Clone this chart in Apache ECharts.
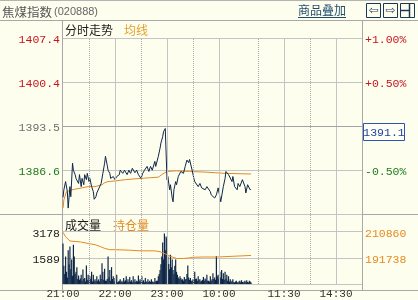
<!DOCTYPE html>
<html><head><meta charset="utf-8">
<script src="https://cdn.jsdelivr.net/npm/echarts@6/dist/echarts.min.js"></script>
<style>html,body{margin:0;padding:0;background:#FEFEEF;}#c{width:418px;height:300px;}</style>
</head><body><div id="c"></div>
<script>
// ---------- data ----------
const titleName = '焦煤指数';
const titleCode = '(020888)';
const prevClose = 1393.5;
const lastPriceLabel = '1391.1';
const sessionMinutes = 345;               // 21:00-23:00, 9:00-10:15, 10:30-11:30, 13:30-15:00
const priceTickLabels = ['', '1386.6', '1393.5', '1400.4', '1407.4'];   // -1%..+1%
const pctTickLabels   = ['', '-0.50%', '', '+0.50%', '+1.00%'];
const volTickLabels   = ['', '1589', '3178'];
const oiTickLabels    = ['', '191738', '210860'];
const timeTickMinutes = [0, 60, 120, 180, 255, 315];
const timeTickLabels  = ['21:00', '22:00', '23:00', '10:00', '11:30', '14:30'];
const solidGridMinutes  = [60, 120, 180, 255, 315];
const dottedGridMinutes = [30, 90, 150, 225, 285];

const priceMinutes = [0,1,3,5,6,8,9,11,12,14,15,18,19,21,22,24,25,27,28,30,31,33,35,36,38,39,41,44,46,48,49,51,52,54,55,57,58,60,62,65,66,69,71,74,76,78,80,83,85,87,90,92,94,97,99,101,103,106,107,109,110,112,113,115,116,118,119,120,121,123,124,126,127,128,130,131,133,134,136,139,141,143,145,146,148,149,151,152,154,156,158,160,162,164,166,168,170,171,173,175,177,179,181,182,184,185,187,188,190,191,193,195,196,198,199,201,202,204,207,208,210,211,213,214,216,217];
const priceValues = [1382.2,1383.4,1384.7,1383.1,1380.5,1383.9,1382.3,1387.6,1386.5,1385.8,1385.2,1384.4,1385.8,1383.9,1385.2,1384.2,1385.8,1385.0,1386.0,1384.7,1385.2,1383.9,1383.1,1381.9,1382.3,1382.9,1383.1,1384.4,1386.0,1387.6,1388.7,1387.3,1386.5,1386.0,1385.2,1385.0,1385.5,1385.0,1385.5,1385.8,1386.5,1386.0,1386.5,1385.8,1386.5,1386.0,1386.8,1386.1,1386.5,1385.8,1385.2,1386.0,1386.5,1387.1,1386.3,1387.1,1386.5,1387.9,1387.1,1387.3,1388.7,1390.0,1390.8,1391.8,1392.6,1393.1,1393.3,1385.0,1385.5,1383.4,1384.2,1382.1,1381.5,1383.4,1384.7,1384.2,1385.5,1385.8,1386.3,1386.0,1387.1,1388.1,1387.7,1388.2,1387.9,1386.5,1385.2,1384.7,1385.0,1383.9,1384.4,1383.7,1383.9,1383.4,1383.9,1383.7,1383.1,1382.6,1382.3,1382.1,1382.6,1383.7,1382.3,1381.5,1381.8,1383.9,1385.2,1386.3,1386.5,1385.8,1386.0,1384.7,1385.5,1383.9,1384.2,1383.4,1384.4,1383.9,1385.0,1385.2,1383.9,1382.9,1384.2,1383.9,1383.4,1383.5];

const avgMinutes = [0,1,4,8,14,22,29,37,45,48,52,60,72,89,100,110,114,120,131,146,164,187,217];
const avgValues  = [1380.5,1381.8,1383.1,1383.3,1383.5,1383.7,1383.9,1383.9,1384.2,1384.5,1384.7,1384.8,1385.0,1385.2,1385.3,1385.4,1385.8,1386.3,1386.4,1386.3,1386.2,1386.0,1385.9];

const volumeValues = [
 2450,1100,600,1670,740,400,2040,1200,2270,900,
 1490,500,2380,1670,600,740,1020,300,520,250,
 330,560,200,880,300,370,150,1120,250,560,
 200,470,300,740,150,560,200,280,150,470,
 200,280,150,560,300,1260,740,250,930,200,
 190,300,1670,400,840,200,1020,300,470,150,
 370,200,560,100,150,200,280,120,190,100,
 370,150,230,470,150,280,120,420,150,230,
 100,470,150,280,120,190,150,520,200,280,
 120,470,150,230,100,370,150,140,280,120,
 190,120,280,150,140,100,370,150,190,200,
 470,600,840,1200,1670,2510,1490,3050,2040,2880,
 2790,1670,1210,900,1770,1020,1490,840,600,1100,
 1490,740,560,400,300,470,370,250,280,200,
 420,280,300,600,1120,400,250,370,200,190,
 280,200,740,300,330,200,470,250,280,150,
 190,250,420,200,330,250,560,200,190,150,
 470,200,280,650,300,400,250,1700,470,560,
 300,740,400,840,300,650,250,740,300,560,
 200,470,150,280,120,190,280,100,90,150,
 190,100,90,150,190,100,230,120,90,150,
 190,100,230,120,90,190,150,90];

const oiMinutes = [0,3,8,20,29,37,43,48,54,60,77,89,106,112,118,124,131,139,145,150,162,178,180,217];
const oiValues  = [210300,207000,203950,203280,202140,201265,199920,198580,197640,197640,197240,196770,196770,196100,194560,192740,191200,191200,191600,192070,192275,192275,193415,193415];

// ---------- build ----------
const MONO = 'Liberation Mono';
const CJK = 'Noto Sans CJK SC';
const pct = p => (p / prevClose - 1) * 100;
const priceData = priceMinutes.map((m, i) => [m, pct(priceValues[i])]);
const avgData = avgMinutes.map((m, i) => [m, pct(avgValues[i])]);
const volData = volumeValues.map((v, i) => [i, v]);
const oiData = oiMinutes.map((m, i) => [m, oiValues[i]]);

const volStep = Number(volTickLabels[1]);
const volMax = Number(volTickLabels[2]) * 4 / 3;          // label strip above top gridline
const oiLo = Number(oiTickLabels[1]), oiHi = Number(oiTickLabels[2]);
const oiMin = 2 * oiLo - oiHi;
const oiMax = oiMin + (oiHi - oiMin) * 4 / 3;

const vLines = solidGridMinutes.map(m => ({xAxis: m, lineStyle: {type: 'solid', color: '#C4C4C4', width: 1}}))
  .concat(dottedGridMinutes.map(m => ({xAxis: m, lineStyle: {type: 'dotted', color: '#A8A8A8', width: 1}})));

const C_RED = '#C8141E', C_GREEN = '#1E7A1E', C_GRAY = '#6E6E6E', C_ORANGE = '#E58A1F', C_NAVY = '#0E2748';
const LINE = '#A8A8A8';
const lab = (color) => ({color: color, fontFamily: MONO, fontSize: 11.5});

const chart = echarts.init(document.getElementById('c'), null, {renderer: 'canvas'});
chart.setOption({
  backgroundColor: '#FEFEEF',
  animation: false,
  grid: [
    {left: 63, right: 56, top: 38, bottom: 86},
    {left: 63, right: 56, top: 214, bottom: 10}
  ],
  xAxis: [
    {gridIndex: 0, type: 'value', min: 0, max: sessionMinutes, show: false},
    {gridIndex: 1, type: 'value', min: 0, max: sessionMinutes, interval: 15,
     axisLine: {show: false, onZero: false}, axisTick: {show: false}, splitLine: {show: false},
     axisLabel: {margin: 5, verticalAlign: 'top', fontFamily: MONO, fontSize: 11, color: '#333',
       formatter: v => { const k = timeTickMinutes.indexOf(v); return k >= 0 ? timeTickLabels[k] : ''; }}}
  ],
  yAxis: [
    {gridIndex: 0, type: 'value', min: -1, max: 1, interval: 0.5, position: 'left',
     axisLine: {show: false}, axisTick: {show: false},
     splitLine: {show: true, lineStyle: {color: '#C4C4C4', width: 1}},
     axisLabel: {margin: 3, padding: [4, 0, 0, 0], fontFamily: MONO, fontSize: 11.5,
       formatter: v => { const k = Math.round((v + 1) / 0.5); const t = priceTickLabels[k] || '';
         if (!t) return ''; return (v > 0.001 ? '{r|' : v < -0.001 ? '{g|' : '{n|') + t + '}'; },
       rich: {r: lab(C_RED), g: lab(C_GREEN), n: lab(C_GRAY)}}},
    {gridIndex: 0, type: 'value', min: -1, max: 1, interval: 0.5, position: 'right',
     axisLine: {show: false}, axisTick: {show: false}, splitLine: {show: false},
     axisLabel: {margin: 3, padding: [4, 0, 0, 0], fontFamily: MONO, fontSize: 11.5,
       formatter: v => { const k = Math.round((v + 1) / 0.5); const t = pctTickLabels[k] || '';
         if (!t) return ''; return (v > 0 ? '{r|' : '{g|') + t + '}'; },
       rich: {r: lab(C_RED), g: lab(C_GREEN)}}},
    {gridIndex: 1, type: 'value', min: 0, max: volMax, interval: volStep, position: 'left',
     axisLine: {show: false}, axisTick: {show: false},
     splitLine: {show: true, lineStyle: {color: '#C4C4C4', width: 1}},
     axisLabel: {margin: 3, padding: [5, 0, 0, 0], fontFamily: MONO, fontSize: 11.5,
       formatter: v => { const t = volTickLabels[Math.round(v / volStep)] || ''; return t ? '{k|' + t + '}' : ''; },
       rich: {k: lab('#222')}}},
    {gridIndex: 1, type: 'value', min: 0, max: volMax, interval: volStep, position: 'right',
     axisLine: {show: false}, axisTick: {show: false}, splitLine: {show: false},
     axisLabel: {margin: 3, padding: [5, 0, 0, 0], fontFamily: MONO, fontSize: 11.5,
       formatter: v => { const t = oiTickLabels[Math.round(v / volStep)] || ''; return t ? '{o|' + t + '}' : ''; },
       rich: {o: lab(C_ORANGE)}}},
    {gridIndex: 1, type: 'value', min: oiMin, max: oiMax, show: false}
  ],
  series: [
    {type: 'line', xAxisIndex: 0, yAxisIndex: 0, data: [], z: 1, silent: true,
     markLine: {silent: true, symbol: ['none', 'none'], label: {show: false}, animation: false,
       data: vLines.concat([{yAxis: 0, lineStyle: {type: 'solid', color: '#A4A4A4', width: 1}}])}},
    {type: 'line', xAxisIndex: 1, yAxisIndex: 2, data: [], z: 1, silent: true,
     markLine: {silent: true, symbol: ['none', 'none'], label: {show: false}, animation: false, data: vLines}},
    {name: '均线', type: 'line', xAxisIndex: 0, yAxisIndex: 0, data: avgData, showSymbol: false, z: 3,
     lineStyle: {color: '#DE8A2A', width: 1}},
    {name: '分时走势', type: 'line', xAxisIndex: 0, yAxisIndex: 0, data: priceData, showSymbol: false, z: 4,
     lineStyle: {color: C_NAVY, width: 1}},
    {name: '成交量', type: 'bar', xAxisIndex: 1, yAxisIndex: 2, data: volData, barWidth: 1.2, z: 3,
     itemStyle: {color: C_NAVY}},
    {name: '持仓量', type: 'line', xAxisIndex: 1, yAxisIndex: 4, data: oiData, showSymbol: false, z: 4,
     lineStyle: {color: C_ORANGE, width: 1}}
  ],
  graphic: [
    // frame
    {type: 'line', shape: {x1: 0, y1: 0.5, x2: 418, y2: 0.5}, style: {stroke: '#B4B4B4', lineWidth: 1}, silent: true},
    {type: 'line', shape: {x1: 0, y1: 20.5, x2: 418, y2: 20.5}, style: {stroke: LINE, lineWidth: 1}, silent: true},
    {type: 'line', shape: {x1: 0, y1: 214.5, x2: 418, y2: 214.5}, style: {stroke: LINE, lineWidth: 1}, silent: true},
    {type: 'line', shape: {x1: 0, y1: 290.5, x2: 418, y2: 290.5}, style: {stroke: LINE, lineWidth: 1}, silent: true},
    {type: 'line', shape: {x1: 62.5, y1: 20, x2: 62.5, y2: 291}, style: {stroke: LINE, lineWidth: 1}, silent: true},
    {type: 'line', shape: {x1: 362.5, y1: 20, x2: 362.5, y2: 291}, style: {stroke: LINE, lineWidth: 1}, silent: true},
    {type: 'line', shape: {x1: 63, y1: 38.5, x2: 362, y2: 38.5}, style: {stroke: '#C4C4C4', lineWidth: 1}, silent: true},
    // header
    {type: 'text', x: 2, y: 12, style: {text: titleName, fill: '#555', fontFamily: CJK, fontSize: 12.5, verticalAlign: 'middle'}},
    {type: 'text', x: 54, y: 12, style: {text: titleCode, fill: '#666', fontFamily: 'Liberation Sans', fontSize: 11, verticalAlign: 'middle'}},
    {type: 'text', x: 298, y: 10.5, style: {text: '商品叠加', fill: '#1D4B70', fontFamily: CJK, fontSize: 12, verticalAlign: 'middle'}},
    {type: 'line', shape: {x1: 298, y1: 17.5, x2: 346, y2: 17.5}, style: {stroke: '#1D4B70', lineWidth: 1}},
    {type: 'rect', shape: {x: 366.5, y: 3.5, width: 14, height: 14}, style: {stroke: '#18385A', fill: 'none', lineWidth: 1}},
    {type: 'text', x: 373.5, y: 10.5, style: {text: '⇦', fill: '#18385A', fontFamily: 'DejaVu Sans', fontSize: 12, align: 'center', verticalAlign: 'middle'}},
    {type: 'rect', shape: {x: 383.5, y: 3.5, width: 14, height: 14}, style: {stroke: '#18385A', fill: 'none', lineWidth: 1}},
    {type: 'text', x: 390.5, y: 10.5, style: {text: '⇨', fill: '#18385A', fontFamily: 'DejaVu Sans', fontSize: 12, align: 'center', verticalAlign: 'middle'}},
    {type: 'rect', shape: {x: 400.5, y: 3.5, width: 14, height: 14}, style: {stroke: '#18385A', fill: 'none', lineWidth: 1}},
    {type: 'line', shape: {x1: 409.5, y1: 4, x2: 409.5, y2: 17}, style: {stroke: '#18385A', lineWidth: 1.5}},
    {type: 'line', shape: {x1: 401, y1: 10.5, x2: 409, y2: 10.5}, style: {stroke: '#18385A', lineWidth: 1.5}},
    // pane captions
    {type: 'text', x: 65, y: 30, style: {text: '分时走势', fill: '#1A1A1A', fontFamily: CJK, fontSize: 12, verticalAlign: 'middle'}},
    {type: 'text', x: 124, y: 30, style: {text: '均线', fill: '#E2A030', fontFamily: CJK, fontSize: 12, verticalAlign: 'middle'}},
    {type: 'text', x: 65, y: 225, style: {text: '成交量', fill: '#1A1A1A', fontFamily: CJK, fontSize: 12, verticalAlign: 'middle'}},
    {type: 'text', x: 113, y: 225, style: {text: '持仓量', fill: C_ORANGE, fontFamily: CJK, fontSize: 12, verticalAlign: 'middle'}},
    // last price box
    {type: 'rect', shape: {x: 363.5, y: 123.5, width: 41, height: 17}, style: {stroke: '#2A55B0', fill: '#FFFFF6', lineWidth: 1}},
    {type: 'text', x: 384, y: 132.5, style: {text: lastPriceLabel, fill: '#1E40A8', fontFamily: MONO, fontSize: 11.5, align: 'center', verticalAlign: 'middle'}}
  ]
});
</script></body></html>
